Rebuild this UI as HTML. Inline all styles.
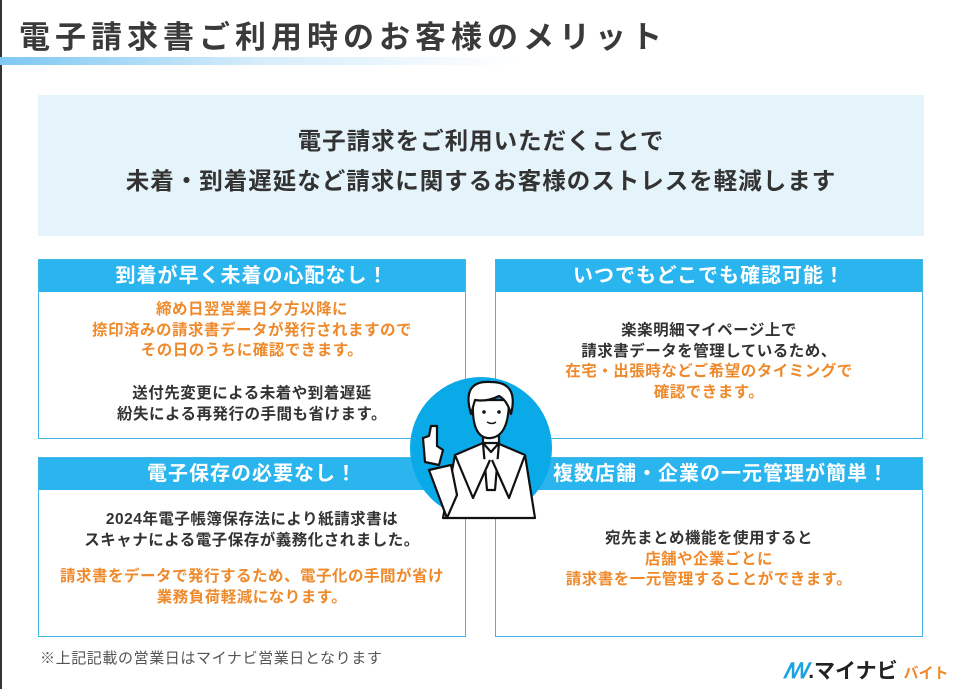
<!DOCTYPE html>
<html><head><meta charset="utf-8"><style>
*{margin:0;padding:0;box-sizing:border-box}
body{width:960px;height:689px;background:#fff;position:relative;overflow:hidden;font-family:"Liberation Sans","Noto Sans CJK JP",sans-serif;color:#333}
.t{position:absolute;left:19px;top:12px;font-size:31px;font-weight:bold;letter-spacing:5px;color:#3a3a3a;white-space:nowrap}
.bar{position:absolute;left:0;top:57px;width:520px;height:8px;background:linear-gradient(90deg,#7dc8f3,#d6edfb 50%,#fff)}
.edge{position:absolute;left:0;top:0;width:1.5px;height:689px;background:#333}
.ban{position:absolute;left:38px;top:95px;width:886px;height:141px;background:#e5f3fa;text-align:center;font-size:23.5px;font-weight:bold;line-height:40px;padding-top:26px;letter-spacing:1px}
.box{position:absolute;width:428px;height:180px;border:1.5px solid #45b5e8;background:#fff}
.box h3{height:32px;background:#2bb5ee;color:#fff;font-size:20px;text-align:center;line-height:32px;letter-spacing:1px}
.box p{position:absolute;left:0;right:0;text-align:center;font-size:15.5px;font-weight:bold;line-height:20.5px;letter-spacing:.5px}
.o{color:#ef8a2c}
.foot{position:absolute;left:40px;top:647px;font-size:15px;color:#555;letter-spacing:.6px}
.logo{position:absolute;left:783px;top:655px;font-size:21px;font-weight:bold;color:#222;white-space:nowrap}
</style></head><body>
<div class="edge"></div>
<div class="t">電子請求書ご利用時のお客様のメリット</div>
<div class="bar"></div>
<div class="ban">電子請求をご利用いただくことで<br>未着・到着遅延など請求に関するお客様のストレスを軽減します</div>

<div class="box" style="left:38px;top:259px"><h3>到着が早く未着の心配なし！</h3>
<p style="top:40px" class="o">締め日翌営業日夕方以降に<br>捺印済みの請求書データが発行されますので<br>その日のうちに確認できます。</p>
<p style="top:124px">送付先変更による未着や到着遅延<br>紛失による再発行の手間も省けます。</p></div>

<div class="box" style="left:495px;top:259px"><h3>いつでもどこでも確認可能！</h3>
<p style="top:61px">楽楽明細マイページ上で<br>請求書データを管理しているため、</p>
<p style="top:102px" class="o">在宅・出張時などご希望のタイミングで<br>確認できます。</p></div>

<div class="box" style="left:38px;top:457px"><h3>電子保存の必要なし！</h3>
<p style="top:52px">2024年電子帳簿保存法により紙請求書は<br>スキャナによる電子保存が義務化されました。</p>
<p style="top:109px" class="o">請求書をデータで発行するため、電子化の手間が省け<br>業務負荷軽減になります。</p></div>

<div class="box" style="left:495px;top:457px"><h3 style="padding-left:24px">複数店舗・企業の一元管理が簡単！</h3>
<p style="top:71px">宛先まとめ機能を使用すると<br><span class="o">店舗や企業ごとに<br>請求書を一元管理することができます。</span></p></div>

<svg style="position:absolute;left:395px;top:370px" width="170" height="150" viewBox="0 0 170 150">
<defs><clipPath id="c"><rect x="0" y="0" width="170" height="148"/></clipPath></defs>
<circle cx="86" cy="78" r="71" fill="#0aa9e8" clip-path="url(#c)"/>
<g stroke="#111" stroke-width="2.2" fill="#fff" stroke-linejoin="round">
<path d="M48 148 L60 85 L95 70 L130 85 L140 148 Z"/>
<path d="M34 100 L56 95 L62 125 L52 148 Z"/>
<path d="M30 92 L28 68 L34 66 L36 56 L42 56 L42 76 L48 80 L44 95 Z"/>
<rect x="88" y="55" width="16" height="18"/>
<path d="M78 30 Q76 70 96 68 Q114 66 114 30 Z"/>
<path d="M76 44 Q66 10 96 12 Q124 12 116 44 Q112 30 104 26 Q92 32 80 30 Z"/>
<path d="M88 73 L96 82 L104 73 L100 120 L92 120 Z"/>
<path d="M60 85 L78 128 L95 90 M130 85 L114 128 L97 90"/>
</g>
<circle cx="89" cy="42" r="1.8" fill="#111"/><circle cx="104" cy="42" r="1.8" fill="#111"/>
<path d="M92 52 Q97 55 101 52" stroke="#111" stroke-width="1.5" fill="none"/>
</svg>

<div class="foot">※上記記載の営業日はマイナビ営業日となります</div>
<div class="logo"><span style="color:#1aa3e0;font-style:italic">ꟿ</span>.マイナビ <span style="color:#ef8a2c;font-size:15px">バイト</span></div>
</body></html>
